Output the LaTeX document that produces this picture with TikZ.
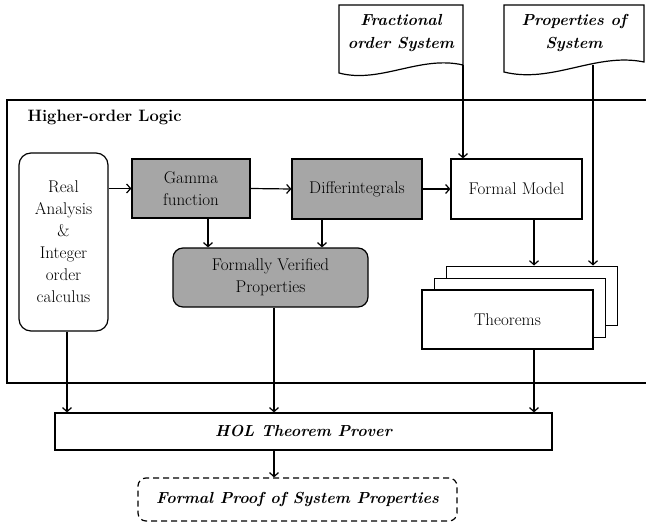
\documentclass[tikz,border=0pt]{standalone}
\usepackage{fontspec}
\usetikzlibrary{arrows.meta,calc}
\definecolor{boxgray}{RGB}{166,166,166}
\newcommand{\rmtxt}{\fontsize{17}{22}\selectfont}
\begin{document}
\begin{tikzpicture}[x=1pt,y=-1pt,font=\rmtxt,
  box/.style={draw,line width=1.2pt,align=center,inner sep=2pt,font=\rmtxt},
  grayb/.style={box,fill=boxgray},
  arr/.style={line width=1.2pt,-{Straight Barb[length=4pt,width=9pt,line width=1.2pt]}},
  ln/.style={line width=1.2pt},
  doc/.style={draw,line width=1.2pt,fill=white},
  bi/.style={font=\fontsize{16}{23}\selectfont\bfseries\itshape}]
\useasboundingbox (0,0) rectangle (646,525);
% outer frame
\draw[ln] (7,100) rectangle (700,383);
\node[anchor=west,font=\fontsize{16.5}{18}\selectfont\bfseries] (hol-label) at (24,117) {Higher-order Logic};
% boxes
\node[box,rounded corners=12pt,minimum width=89pt,minimum height=178pt] (ra) at (63.5,242) {Real\\Analysis\\\&\\Integer\\order\\calculus};
\node[grayb,minimum width=118pt,minimum height=59pt] (gamma) at (191,188.5) {Gamma\\function};
\node[grayb,minimum width=130pt,minimum height=60pt] (diff) at (357,189) {Differintegrals};
\node[box,minimum width=131pt,minimum height=60pt] (fm) at (516.5,189) {Formal Model};
\node[grayb,rounded corners=10pt,minimum width=195pt,minimum height=59pt] (fvp) at (270.5,277.5) {Formally Verified\\Properties};
% theorem stack
\node[box,line width=1pt,fill=white,minimum width=171pt,minimum height=59pt] (th3) at (531.5,295.5) {};
\node[box,line width=1pt,fill=white,minimum width=171pt,minimum height=59pt] (th2) at (519.5,307.5) {};
\node[box,fill=white,minimum width=171pt,minimum height=59pt] (th1) at (507.5,319.5) {Theorems};
% HOL and proof
\node[box,minimum width=497pt,minimum height=37pt,bi] (hol) at (303.5,431.5) {HOL Theorem Prover};
\node[box,dashed,dash pattern=on 6pt off 4pt,rounded corners=8pt,minimum width=319pt,minimum height=43pt,bi] (proof) at (297.5,499.5) {Formal Proof of System Properties};
% documents
\draw[doc] (339,73) -- (339,5) -- (463,5) -- (463,65) .. controls (420,55) and (380,84) .. cycle;
\coordinate (d1) at (463,65);
\node[bi,align=center] (d1t) at (401,33) {Fractional\\order System};
\draw[doc] (504,72) -- (504,5) -- (644,5) -- (644,62) .. controls (596,52) and (552,84) .. cycle;
\coordinate (d2) at (593,64.5);
\node[bi,align=center] (d2t) at (574,33) {Properties of\\System};
% arrows
\draw[arr] (ra.east |- gamma.west) -- (gamma.west);
\draw[arr] (gamma.east) -- (diff.west);
\draw[arr] (diff.east) -- (fm.west);
\draw[arr] ([xshift=17pt]gamma.south) -- ([xshift=17pt]gamma.south |- fvp.north);
\draw[arr] ([xshift=-35pt]diff.south) -- ([xshift=-35pt]diff.south |- fvp.north);
\draw[arr] (d1) -- (d1 |- fm.north);
\draw[arr] ([xshift=17.5pt]fm.south) -- ([xshift=17.5pt]fm.south |- th3.north);
\draw[arr] (d2) -- (d2 |- th3.north);
\draw[arr] ([xshift=3.5pt]ra.south) -- ([xshift=3.5pt]ra.south |- hol.north);
\draw[arr] ([xshift=3.5pt]fvp.south) -- ([xshift=3.5pt]fvp.south |- hol.north);
\draw[arr] ([xshift=26.5pt]th1.south) -- ([xshift=26.5pt]th1.south |- hol.north);
\draw[arr] ([xshift=-29.5pt]hol.south) -- ([xshift=-29.5pt]hol.south |- proof.north);
\end{tikzpicture}
\end{document}
